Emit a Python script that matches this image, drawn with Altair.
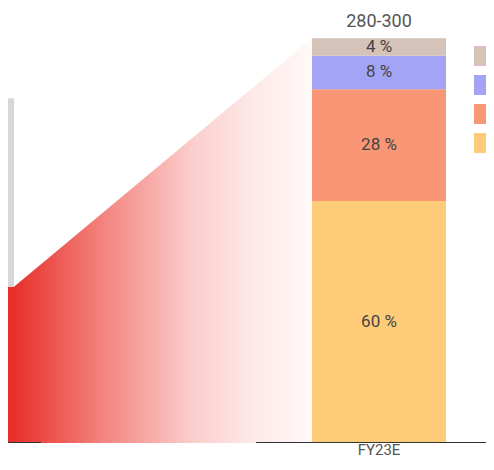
import altair as alt
import pandas as pd

# ---- data ----
categories = ["FY22", "FY23E"]
cat_index = [0, 1]

prior_parts = ["Red part", "Gray part"]
prior_values = [112, 135]          # stacked: red bottom, gray on top (total 247)
prior_colors = ["#e8302a", "#d5d7d9"]

fy23_total = 290
fy23_range_label = "280-300"
segments = ["Segment D", "Segment C", "Segment B", "Segment A"]   # top -> bottom
shares = [4.3, 8.3, 27.6, 59.8]                                    # % of FY23E
seg_colors = ["#d5c3b9", "#a4a4f6", "#f99676", "#fecb78"]

# ---- style / geometry constants ----
HALF = 0.1551         # bar half width in x units
X_DOMAIN = [0.1412, 1.2477]
Y_DOMAIN = [0, 311.7]
W, H = 478, 435
FONT = "Roboto"

# stacked FY23E table (bottom -> top)
rows = []
base = 0.0
for seg, sh, order in zip(reversed(segments), reversed(shares), range(len(segments))):
    v = fy23_total * sh / 100
    rows.append({"cat": categories[1], "seg": seg, "y0": base, "y1": base + v,
                 "mid": base + v / 2, "label": f"{round(sh)} %", "order": order,
                 "x0": cat_index[1] - HALF, "x1": cat_index[1] + HALF, "xc": cat_index[1]})
    base += v
fy = pd.DataFrame(rows)

prows = []
base = 0.0
for part, v, col in zip(prior_parts, prior_values, prior_colors):
    prows.append({"cat": categories[0], "part": part, "y0": base, "y1": base + v, "col": col,
                  "x0": cat_index[0] - HALF, "x1": cat_index[0] + HALF})
    base += v
pr = pd.DataFrame(prows)

# connector area from top of prior red bar to top of FY23E
conn = pd.DataFrame({
    "x": [cat_index[0] + HALF, cat_index[1] - HALF],
    "y": [prior_values[0], fy23_total],
})

# baselines under each bar
base_df = pd.DataFrame({
    "cat": categories,
    "bx0": [cat_index[0] - 0.30, cat_index[1] - 0.2847],
    "bx1": [cat_index[0] + 0.2176, cat_index[1] + 0.30],
})

top_df = pd.DataFrame({"xc": [cat_index[1]], "y": [fy23_total], "t": [fy23_range_label]})
lab_df = pd.DataFrame({"xc": [cat_index[1]], "y": [0], "t": [categories[1]]})

xs = alt.Scale(domain=X_DOMAIN, nice=False, zero=False)
ys = alt.Scale(domain=Y_DOMAIN, nice=False, zero=False)

grad = alt.Gradient(
    gradient="linear",
    stops=[
        alt.GradientStop(color="#e8302a", offset=0),
        alt.GradientStop(color="#f3847f", offset=0.3),
        alt.GradientStop(color="#fbcecc", offset=0.6),
        alt.GradientStop(color="#fde9e8", offset=0.8),
        alt.GradientStop(color="#fff9f8", offset=1),
    ],
    x1=0, x2=1, y1=0, y2=0,
)

area = alt.Chart(conn).mark_area(color=grad, clip=True).encode(
    x=alt.X("x:Q", scale=xs, axis=None),
    y=alt.Y("y:Q", scale=ys, axis=None),
    y2=alt.datum(0),
)

prior = alt.Chart(pr).mark_bar(clip=True).encode(
    x=alt.X("x0:Q", scale=xs, axis=None), x2="x1:Q",
    y=alt.Y("y0:Q", scale=ys, axis=None), y2="y1:Q",
    color=alt.Color("col:N", scale=None, legend=None),
)

bars = alt.Chart(fy).mark_bar(clip=True).encode(
    x=alt.X("x0:Q", scale=xs, axis=None), x2="x1:Q",
    y=alt.Y("y0:Q", scale=ys, axis=None), y2="y1:Q",
    color=alt.Color("seg:N", scale=alt.Scale(domain=segments, range=seg_colors),
                    legend=alt.Legend(orient="none", legendX=466, legendY=38, title=None,
                                      symbolType="square", symbolSize=400,
                                      symbolStrokeWidth=0, symbolOpacity=1,
                                      rowPadding=9, padding=0, labelExpr="''")),
)

pct = alt.Chart(fy).mark_text(font=FONT, fontSize=17, color="#444", baseline="middle").encode(
    x=alt.X("xc:Q", scale=xs), y=alt.Y("mid:Q", scale=ys), text="label:N",
)

rules = alt.Chart(base_df).mark_rule(color="#333", strokeWidth=2, clip=True).encode(
    x=alt.X("bx0:Q", scale=xs), x2="bx1:Q", y=alt.datum(0, scale=ys),
)

top = alt.Chart(top_df).mark_text(font=FONT, fontSize=18, color="#555", baseline="middle", dy=-16).encode(
    x=alt.X("xc:Q", scale=xs), y=alt.Y("y:Q", scale=ys), text="t:N",
)

xlab = alt.Chart(lab_df).mark_text(font=FONT, fontSize=15, color="#555", baseline="middle", dy=7).encode(
    x=alt.X("xc:Q", scale=xs), y=alt.Y("y:Q", scale=ys), text="t:N",
)

chart = alt.layer(area, prior, bars, rules, pct, top, xlab).resolve_scale(
    color="independent"
).properties(
    width=W, height=H,
    autosize=alt.AutoSizeParams(type="none"),
    padding={"left": 0, "top": 0, "right": 0, "bottom": 15},
).configure_view(stroke=None)

chart.save("out.html", embed_options={"renderer": "svg", "actions": False})
